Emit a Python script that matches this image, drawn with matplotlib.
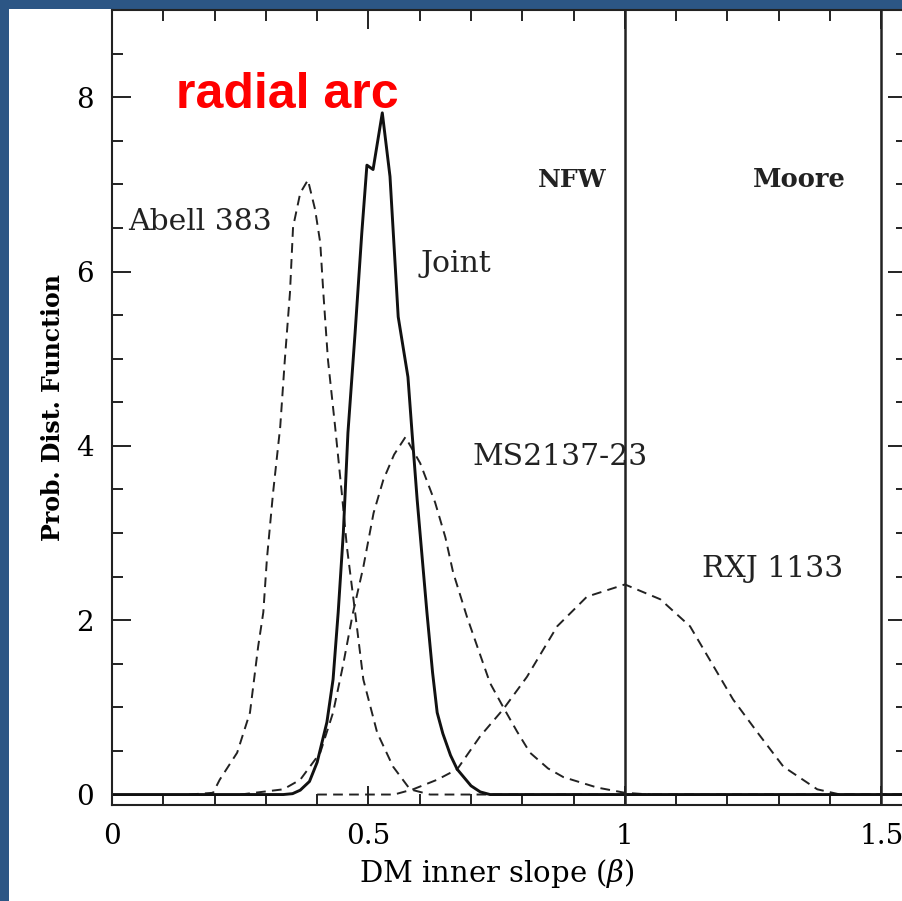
import numpy as np
import matplotlib
matplotlib.use("Agg")
import matplotlib.pyplot as plt
from matplotlib.patches import Rectangle
from matplotlib.ticker import MultipleLocator, FixedLocator, FixedFormatter

plt.rcParams['font.family'] = ['DejaVu Serif']
plt.rcParams['mathtext.fontset'] = 'dejavuserif'
plt.rcParams['lines.scale_dashes'] = False

# 数据
abell_beta = [0.15, 0.197, 0.21, 0.244, 0.269, 0.285, 0.295, 0.302, 0.314, 0.328, 0.337,
              0.347, 0.353, 0.367, 0.382, 0.396, 0.406, 0.412, 0.421, 0.435, 0.448, 0.458,
              0.474, 0.49, 0.517, 0.548, 0.581, 0.62, 1.55]
abell_pdf = [0, 0.02, 0.17, 0.48, 0.94, 1.7, 2.09, 2.7, 3.46, 4.22, 4.99,
             5.76, 6.51, 6.9, 7.05, 6.71, 6.33, 5.76, 4.99, 4.22, 3.46, 2.84,
             2.09, 1.32, 0.71, 0.32, 0.06, 0.0, 0.0]

ms_beta = [0.25, 0.334, 0.367, 0.406, 0.431, 0.45, 0.47, 0.49, 0.51, 0.529, 0.55, 0.572,
           0.601, 0.63, 0.65, 0.665, 0.692, 0.715, 0.737, 0.763, 0.79, 0.815, 0.85, 0.88,
           0.946, 1.0, 1.05]
ms_pdf = [0, 0.06, 0.17, 0.48, 0.94, 1.47, 2.09, 2.61, 3.23, 3.61, 3.9, 4.1,
          3.8, 3.35, 2.95, 2.55, 2.04, 1.65, 1.28, 1.0, 0.72, 0.48, 0.3, 0.2,
          0.08, 0.02, 0]

rxj_beta = [0.40, 0.55, 0.587, 0.634, 0.673, 0.718, 0.763, 0.809, 0.868, 0.926, 1.0,
            1.069, 1.127, 1.18, 1.211, 1.26, 1.309, 1.375, 1.42, 1.55]
rxj_pdf = [0, 0.0, 0.06, 0.17, 0.29, 0.67, 0.98, 1.35, 1.93, 2.27, 2.41,
           2.24, 1.93, 1.4, 1.09, 0.7, 0.32, 0.06, 0, 0]

joint_beta = [0.0, 0.334, 0.352, 0.367, 0.385, 0.40, 0.419, 0.431, 0.441, 0.451, 0.46, 0.474,
              0.487, 0.497, 0.509, 0.527, 0.542, 0.558, 0.577, 0.585, 0.595, 0.605, 0.614,
              0.625, 0.634, 0.645, 0.66, 0.673, 0.70, 0.718, 0.737, 1.55]
joint_pdf = [0, 0, 0.01, 0.05, 0.15, 0.37, 0.83, 1.32, 2.09, 3.0, 4.15, 5.3,
             6.44, 7.22, 7.17, 7.82, 7.09, 5.48, 4.79, 4.15, 3.38, 2.7, 2.09,
             1.4, 0.94, 0.7, 0.45, 0.29, 0.1, 0.03, 0, 0]

model_lines = [1.0, 1.5]
xtick_vals = [0, 0.5, 1, 1.5]
xtick_labels = ['0', '0.5', '1', '1.5']
ytick_vals = [0, 2, 4, 6, 8]
ytick_labels = ['0', '2', '4', '6', '8']

blue = '#2c5685'
ink = '#222222'

fig = plt.figure(figsize=(9.03, 9.01), dpi=100)
fig.patch.set_facecolor(blue)
fig.add_artist(Rectangle((9 / 903, 0), 1, 1 - 9 / 901, transform=fig.transFigure,
                         facecolor='white', edgecolor='none', zorder=-10))

ax = fig.add_axes([112 / 903, 1 - 805 / 901, (907 - 112) / 903, (805 - 10) / 901])
ax.set_xlim(0, 1.55)
ax.set_ylim(-0.12, 9.0)

dash = dict(color=ink, lw=1.4, linestyle=(0, (7, 4.5)))
ax.plot(abell_beta, abell_pdf, **dash)
ax.plot(ms_beta, ms_pdf, **dash)
ax.plot(rxj_beta, rxj_pdf, **dash)
ax.plot(joint_beta, joint_pdf, color='#111111', lw=2.1)
for xv in model_lines:
    ax.axvline(xv, color=ink, lw=1.8)

# 刻度
ax.xaxis.set_major_locator(FixedLocator(xtick_vals))
ax.xaxis.set_major_formatter(FixedFormatter(xtick_labels))
ax.xaxis.set_minor_locator(MultipleLocator(0.1))
ax.yaxis.set_major_locator(FixedLocator(ytick_vals))
ax.yaxis.set_major_formatter(FixedFormatter(ytick_labels))
ax.yaxis.set_minor_locator(MultipleLocator(0.5))
ax.tick_params(which='both', direction='in', top=True, right=True, width=1.4, color=ink)
ax.tick_params(which='major', length=14, labelsize=20, pad=13)
ax.tick_params(which='minor', length=8)
for s in ax.spines.values():
    s.set_linewidth(1.5)
    s.set_color(ink)

ax.set_xlabel(r'DM inner slope ($\beta$)', fontsize=21)
ax.xaxis.set_label_coords(0.484, -0.066)
ax.set_ylabel('Prob. Dist. Function', fontsize=17, fontweight='bold')
ax.yaxis.set_label_coords(-0.059, 0.5)

# 标注
ax.text(0.031, 6.48, 'Abell 383', fontsize=21.5, color=ink)
ax.text(0.601, 5.99, 'Joint', fontsize=21.5, color=ink)
ax.text(0.831, 6.97, 'NFW', fontsize=18, fontweight='bold', color=ink)
ax.text(1.25, 6.97, 'Moore', fontsize=18.5, fontweight='bold', color=ink)
ax.text(0.702, 3.78, 'MS2137-23', fontsize=21.5, color=ink)
ax.text(1.151, 2.49, 'RXJ 1133', fontsize=21.5, color=ink)
ax.text(0.125, 7.88, 'radial arc', fontsize=36, fontweight='bold', color='red',
        family=['Liberation Sans', 'DejaVu Sans'])

fig.savefig('out.png', dpi=100, facecolor=fig.get_facecolor())
